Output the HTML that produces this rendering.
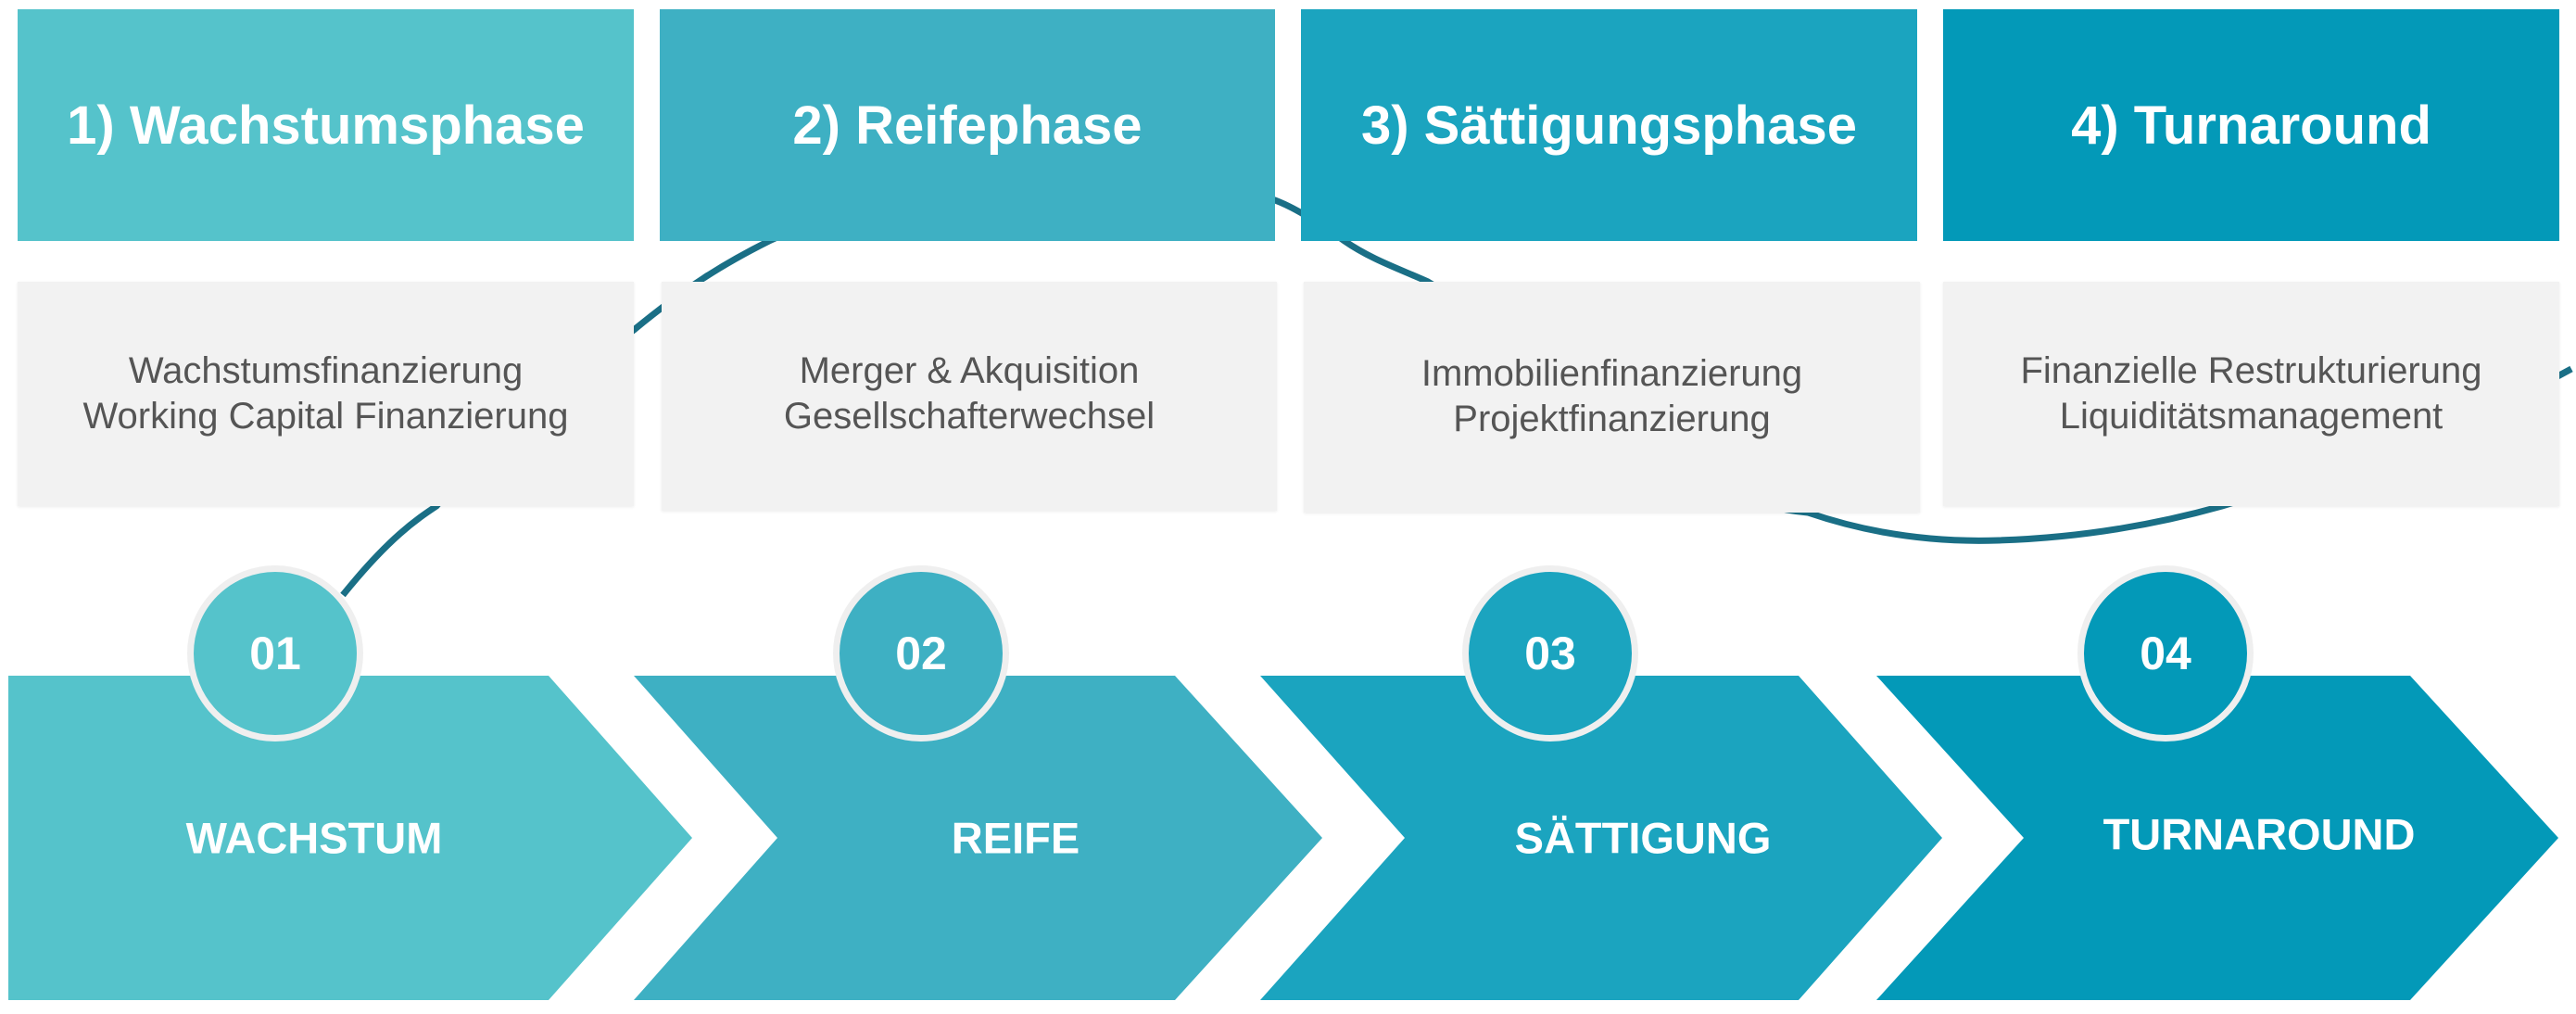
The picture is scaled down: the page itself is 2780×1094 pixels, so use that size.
<!DOCTYPE html>
<html><head><meta charset="utf-8"><style>
html,body{margin:0;padding:0;background:#fff;}
body{width:2780px;height:1094px;position:relative;overflow:hidden;font-family:"Liberation Sans",sans-serif;}
.abs{position:absolute;}
.hdr{position:absolute;top:10px;height:250px;color:#fff;font-weight:bold;font-size:58px;display:flex;align-items:center;justify-content:center;}
.grey{position:absolute;top:304px;background:#f2f2f2;color:#555;font-size:40px;line-height:49px;text-align:center;box-shadow:0 1px 3px rgba(0,0,0,0.08);}
.grey div{position:absolute;left:0;right:0;top:72px;}
.circ{position:absolute;width:176px;height:176px;border-radius:50%;border:7px solid #efefef;color:#fff;font-weight:bold;font-size:50px;display:flex;align-items:center;justify-content:center;box-sizing:content-box;}
.lbl{position:absolute;color:#fff;font-weight:bold;font-size:47px;transform:translate(-50%,-50%);white-space:nowrap;}
</style></head><body>
<svg class="abs" style="left:0;top:0" width="2780" height="1094">
<path d="M370,642 C420,580 450,560 471,546 C560,440 640,390 684,356 C740,310 780,285 830,260 C1000,180 1250,180 1376,216 C1400,225 1430,245 1451,260 C1480,280 1510,290 1541,304 C1700,400 1800,540 1951,553 C2030,580 2100,585 2157,583 C2250,580 2330,565 2398,546 C2550,500 2680,450 2775,398" fill="none" stroke="#1a6f86" stroke-width="7"/>
</svg>
<div class="hdr" style="left:19px;width:665px;background:#55c3cb">1) Wachstumsphase</div>
<div class="hdr" style="left:712px;width:664px;background:#3eb0c3">2) Reifephase</div>
<div class="hdr" style="left:1404px;width:665px;background:#1ba4bf">3) Sättigungsphase</div>
<div class="hdr" style="left:2097px;width:665px;background:#0399b8">4) Turnaround</div>
<div class="grey" style="left:19px;width:665px;height:242px"><div>Wachstumsfinanzierung<br>Working Capital Finanzierung</div></div>
<div class="grey" style="left:714px;width:664px;height:247px"><div>Merger &amp; Akquisition<br>Gesellschafterwechsel</div></div>
<div class="grey" style="left:1407px;width:665px;height:249px"><div style="top:75px">Immobilienfinanzierung<br>Projektfinanzierung</div></div>
<div class="grey" style="left:2097px;width:665px;height:242px"><div>Finanzielle Restrukturierung<br>Liquiditätsmanagement</div></div>
<svg class="abs" style="left:0;top:0" width="2780" height="1094">
<polygon points="9,729 592,729 747,904 592,1079 9,1079" fill="#55c3cb"/>
<polygon points="684,729 1268,729 1427,904 1268,1079 684,1079 839,904" fill="#3eb0c3"/>
<polygon points="1360,729 1941,729 2096,904 1941,1079 1360,1079 1516,904" fill="#1ba4bf"/>
<polygon points="2025,729 2601,729 2761,904 2601,1079 2025,1079 2184,904" fill="#0399b8"/>
</svg>
<div class="circ" style="left:202px;top:610px;background:#55c3cb">01</div>
<div class="circ" style="left:899px;top:610px;background:#3eb0c3">02</div>
<div class="circ" style="left:1578px;top:610px;background:#1ba4bf">03</div>
<div class="circ" style="left:2242px;top:610px;background:#0399b8">04</div>
<div class="lbl" style="left:339px;top:904px">WACHSTUM</div>
<div class="lbl" style="left:1096px;top:904px">REIFE</div>
<div class="lbl" style="left:1773px;top:904px">SÄTTIGUNG</div>
<div class="lbl" style="left:2438px;top:900px">TURNAROUND</div>
</body></html>
